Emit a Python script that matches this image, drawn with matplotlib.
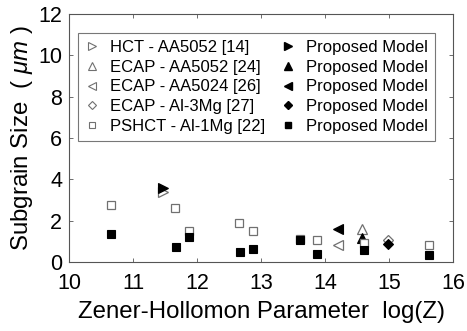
import matplotlib
matplotlib.use("Agg")
import matplotlib.pyplot as plt
from matplotlib.lines import Line2D

plt.rcParams['font.family'] = ['Liberation Sans', 'DejaVu Sans']
plt.rcParams['mathtext.fontset'] = 'custom'
plt.rcParams['mathtext.it'] = 'Liberation Sans:italic'
plt.rcParams['mathtext.rm'] = 'Liberation Sans'

# Data (log Z, subgrain size in um)
hct_x, hct_y = [11.46], [3.37]
hct_model_x, hct_model_y = [11.47], [3.58]

ecap5052_x, ecap5052_y = [14.58], [1.60]
ecap5052_model_x, ecap5052_model_y = [14.58], [1.15]

ecap5024_x, ecap5024_y = [14.21], [0.82]
ecap5024_model_x, ecap5024_model_y = [14.21], [1.58]

ecap3mg_x, ecap3mg_y = [14.98], [1.06]
ecap3mg_model_x, ecap3mg_model_y = [14.98], [0.87]

pshct_x = [10.66, 11.66, 11.88, 12.66, 12.88, 13.61, 13.88, 14.61, 15.62]
pshct_y = [2.74, 2.60, 1.50, 1.89, 1.50, 1.10, 1.05, 0.90, 0.82]
pshct_model_x = [10.66, 11.67, 11.88, 12.67, 12.88, 13.61, 13.88, 14.61, 15.63]
pshct_model_y = [1.35, 0.73, 1.21, 0.47, 0.63, 1.05, 0.40, 0.58, 0.34]

labels_exp = ['HCT - AA5052 [14]', 'ECAP - AA5052 [24]', 'ECAP - AA5024 [26]',
              'ECAP - Al-3Mg [27]', 'PSHCT - Al-1Mg [22]']
label_model = 'Proposed Model'

fig = plt.figure(figsize=(4.67, 3.31), dpi=100)
ax = fig.add_axes([0.148, 0.2085, 0.822, 0.7495])

gray = '#707070'
series = [
    (hct_x, hct_y, hct_model_x, hct_model_y, '>', 7),
    (ecap5052_x, ecap5052_y, ecap5052_model_x, ecap5052_model_y, '^', 7),
    (ecap5024_x, ecap5024_y, ecap5024_model_x, ecap5024_model_y, '<', 7),
    (ecap3mg_x, ecap3mg_y, ecap3mg_model_x, ecap3mg_model_y, 'D', 5.2),
    (pshct_x, pshct_y, pshct_model_x, pshct_model_y, 's', 5.2),
]

h_open, h_fill = [], []
for (ex, ey, mx, my, mk, ms), lab in zip(series, labels_exp):
    ax.plot(ex, ey, linestyle='none', marker=mk, ms=ms, mfc='white', mec=gray, mew=0.9)
    ax.plot(mx, my, linestyle='none', marker=mk, ms=ms, mfc='black', mec='black', mew=0.8)
    h_open.append(Line2D([], [], linestyle='none', marker=mk, ms=ms * 0.8, mfc='white', mec=gray, mew=0.8, label=lab))
    h_fill.append(Line2D([], [], linestyle='none', marker=mk, ms=ms * 0.8, mfc='black', mec='black', label=label_model))

ax.set_xlim(10, 16)
ax.set_ylim(0, 12)
ax.set_xticks(range(10, 17))
ax.set_yticks(range(0, 13, 2))
ax.tick_params(direction='in', top=True, right=True, labelsize=15.5, length=3, width=0.6, color='#555555')
ax.tick_params(axis='x', pad=8)
ax.tick_params(axis='y', pad=5)
for s in ax.spines.values():
    s.set_color('#555555')
    s.set_linewidth(0.8)

ax.set_xlabel('Zener-Hollomon Parameter  log(Z)', fontsize=17.3, labelpad=5)
ax.set_ylabel('Subgrain Size  ( $\\mu m$ )', fontsize=17.3, labelpad=2)

leg = ax.legend(handles=h_open + h_fill, ncol=2, loc='upper left', bbox_to_anchor=(0.023, 0.925),
                fontsize=12, frameon=True, fancybox=False, edgecolor='#555555',
                handlelength=0.8, handletextpad=0.65, columnspacing=1.0, labelspacing=0.28,
                borderpad=0.45, borderaxespad=0)
leg.get_frame().set_linewidth(0.8)

fig.savefig('out.png', dpi=100)
